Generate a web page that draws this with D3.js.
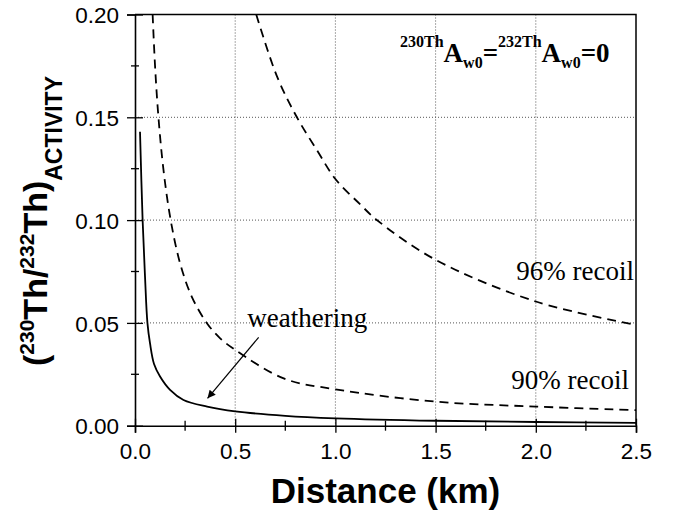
<!DOCTYPE html>
<html>
<head>
<meta charset="utf-8">
<script src="https://cdn.jsdelivr.net/npm/d3@7"></script>
<style>
  body { margin: 0; background: #fff; }
  svg { display: block; }
</style>
</head>
<body>
<div id="chart"></div>
<script>
// values
const weatherX = [0.025, 0.038, 0.05, 0.062, 0.075, 0.095, 0.125, 0.175, 0.242, 0.36, 0.5, 0.75, 1.0, 1.5, 2.0, 2.5];
const weatherY = [0.143, 0.100, 0.0725, 0.050, 0.040, 0.030, 0.0239, 0.0174, 0.0125, 0.0093, 0.0070, 0.0048, 0.0036, 0.0024, 0.0018, 0.0014];

const recoil90X = [0.088, 0.10, 0.117, 0.142, 0.178, 0.225, 0.283, 0.358, 0.425, 0.5, 0.742, 1.0, 1.5, 2.0, 2.5];
const recoil90Y = [0.200, 0.175, 0.150, 0.1245, 0.100, 0.079, 0.0628, 0.050, 0.0425, 0.0369, 0.023, 0.0177, 0.0117, 0.0093, 0.0076];

const recoil96X = [0.605, 0.708, 0.808, 0.908, 1.0, 1.12, 1.21, 1.5, 2.0, 2.5];
const recoil96Y = [0.200, 0.170, 0.150, 0.134, 0.120, 0.108, 0.0998, 0.0807, 0.0604, 0.049];

const xTicks = [0, 0.5, 1.0, 1.5, 2.0, 2.5];
const yTicks = [0, 0.05, 0.10, 0.15, 0.20];
const xMinor = [0.25, 0.75, 1.25, 1.75, 2.25];
const yMinor = [0.025, 0.075, 0.125, 0.175];

const W = 681, H = 513;
const margin = {top: 14.5, right: 45, bottom: 87.3, left: 135},
    width = W - margin.left - margin.right,
    height = H - margin.top - margin.bottom;

const sans = "Arial, 'Liberation Sans', Helvetica, sans-serif";
const serif = "'Times New Roman', 'Liberation Serif', Times, serif";

const svg = d3.select("#chart")
    .append("svg")
    .attr("width", W)
    .attr("height", H)
    .append("g")
    .attr("transform", `translate(${margin.left}, ${margin.top})`);

const xScale = d3.scaleLinear().domain([0, 2.5]).range([0, width]);
const yScale = d3.scaleLinear().domain([0, 0.2]).range([height, 0]);

svg.append("defs").append("clipPath").attr("id", "plot")
    .append("rect").attr("width", width).attr("height", height);

// dotted grid
svg.append("g")
    .selectAll("line")
    .data(xTicks.slice(1, -1))
    .enter()
    .append("line")
    .attr("x1", d => xScale(d)).attr("x2", d => xScale(d))
    .attr("y1", 0).attr("y2", height)
    .attr("stroke", "#555").attr("stroke-width", 1)
    .attr("stroke-dasharray", "1,2");

svg.append("g")
    .selectAll("line")
    .data(yTicks.slice(1, -1))
    .enter()
    .append("line")
    .attr("x1", 0).attr("x2", width)
    .attr("y1", d => yScale(d)).attr("y2", d => yScale(d))
    .attr("stroke", "#555").attr("stroke-width", 1)
    .attr("stroke-dasharray", "1,2");

// curves
const line = d3.line()
    .x(d => xScale(d[0]))
    .y(d => yScale(d[1]))
    .curve(d3.curveCatmullRom.alpha(0.5));

const curves = [
    {x: weatherX, y: weatherY, dash: null},
    {x: recoil90X, y: recoil90Y, dash: "9,6"},
    {x: recoil96X, y: recoil96Y, dash: "9,6"}
];

svg.append("g")
    .attr("clip-path", "url(#plot)")
    .selectAll("path")
    .data(curves)
    .enter()
    .append("path")
    .attr("d", d => line(d.x.map((v, i) => [v, d.y[i]])))
    .attr("fill", "none")
    .attr("stroke", "#000")
    .attr("stroke-width", 1.8)
    .attr("stroke-dasharray", d => d.dash);

// frame (top + right)
svg.append("path")
    .attr("d", `M0,0H${width}V${height}`)
    .attr("fill", "none")
    .attr("stroke", "#000")
    .attr("stroke-width", 1.5);

// axes, ticks crossing the axis line
const xAxis = svg.append("g")
    .attr("transform", `translate(0, ${height})`)
    .call(d3.axisBottom(xScale).tickValues(xTicks).tickSize(7).tickFormat(d3.format(".1f")));
xAxis.selectAll(".tick line").attr("y1", -7);
xAxis.selectAll(".tick text").attr("y", 10).attr("dy", "1.05em");
xAxis.selectAll("g.minor")
    .data(xMinor)
    .enter()
    .append("line")
    .attr("x1", d => xScale(d)).attr("x2", d => xScale(d))
    .attr("y1", -5).attr("y2", 5)
    .attr("stroke", "#000");

const yAxis = svg.append("g")
    .call(d3.axisLeft(yScale).tickValues(yTicks).tickSize(8).tickFormat(d3.format(".2f")));
yAxis.selectAll(".tick line").attr("x1", 8);
yAxis.selectAll(".tick text").attr("x", -16).attr("dy", "0.36em");
yAxis.selectAll("g.minor")
    .data(yMinor)
    .enter()
    .append("line")
    .attr("y1", d => yScale(d)).attr("y2", d => yScale(d))
    .attr("x1", -4).attr("x2", 4)
    .attr("stroke", "#000");

[xAxis, yAxis].forEach(a => {
    a.select(".domain").attr("stroke-width", 1.6);
    a.selectAll("line").attr("stroke-width", 1.3);
    a.selectAll("text")
        .attr("font-family", sans)
        .attr("font-size", 22.5)
        .attr("fill", "#000");
});

// axis titles
svg.append("text")
    .attr("x", xScale(1.25))
    .attr("y", height + 77)
    .attr("text-anchor", "middle")
    .attr("font-family", sans)
    .attr("font-weight", "bold")
    .attr("font-size", 35)
    .text("Distance (km)");

const yt = svg.append("text")
    .attr("transform", `translate(${47 - margin.left}, ${221 - margin.top}) rotate(-90)`)
    .attr("text-anchor", "middle")
    .attr("font-family", sans)
    .attr("font-weight", "bold")
    .attr("font-size", 34);
yt.append("tspan").text("(");
yt.append("tspan").attr("font-size", 21).attr("dy", -13).text("230");
yt.append("tspan").attr("dy", 13).text("Th/");
yt.append("tspan").attr("font-size", 21).attr("dy", -13).text("232");
yt.append("tspan").attr("dy", 13).text("Th)");
yt.append("tspan").attr("font-size", 23).attr("dy", 15).text("ACTIVITY");

// annotations
const ann = svg.append("text")
    .attr("x", 400 - margin.left)
    .attr("y", 61.7 - margin.top)
    .attr("font-family", serif)
    .attr("font-weight", "bold")
    .attr("font-size", 27);
ann.append("tspan").attr("font-size", 16).attr("dy", -15).text("230Th");
ann.append("tspan").attr("dy", 15).text("A");
ann.append("tspan").attr("font-size", 16).attr("dy", 6).text("w0");
ann.append("tspan").attr("dy", -6).text("=");
ann.append("tspan").attr("font-size", 16).attr("dy", -15).text("232Th");
ann.append("tspan").attr("dy", 15).text("A");
ann.append("tspan").attr("font-size", 16).attr("dy", 6).text("w0");
ann.append("tspan").attr("dy", -6).text("=0");

const labels = [
    {text: "96% recoil", x: 2.49, y: 0.071},
    {text: "90% recoil", x: 2.465, y: 0.018},
    {text: "weathering", x: 0.56, y: 0.048}
];
svg.append("g")
    .selectAll("text")
    .data(labels)
    .enter()
    .append("text")
    .attr("x", d => xScale(d.x))
    .attr("y", d => yScale(d.y))
    .attr("text-anchor", d => d.text === "weathering" ? "start" : "end")
    .attr("font-family", serif)
    .attr("font-size", 27)
    .text(d => d.text);

// arrow to the weathering curve
svg.append("defs").append("marker")
    .attr("id", "arrow")
    .attr("viewBox", "0 0 10 10")
    .attr("refX", 10).attr("refY", 5)
    .attr("markerWidth", 10).attr("markerHeight", 8)
    .attr("markerUnits", "userSpaceOnUse")
    .attr("orient", "auto")
    .append("path")
    .attr("d", "M0,0L10,5L0,10Z")
    .attr("fill", "#000");

svg.append("line")
    .attr("x1", xScale(0.617)).attr("y1", yScale(0.043))
    .attr("x2", xScale(0.362)).attr("y2", yScale(0.0133))
    .attr("stroke", "#000")
    .attr("stroke-width", 1.2)
    .attr("marker-end", "url(#arrow)");
</script>
</body>
</html>
